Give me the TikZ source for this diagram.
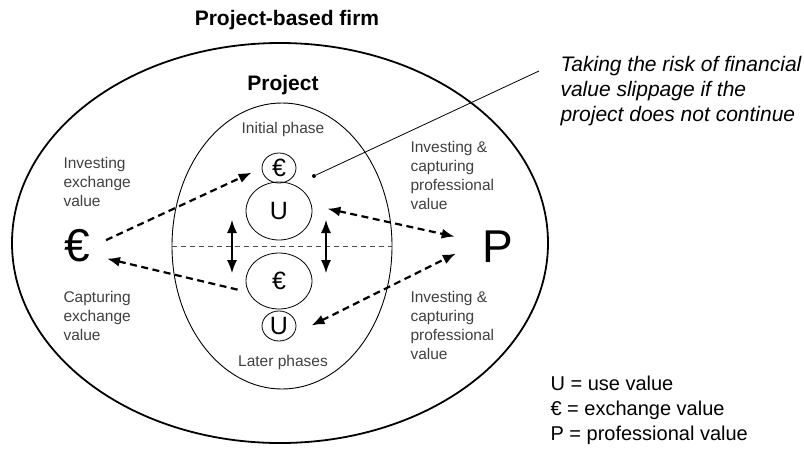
\documentclass[tikz,border=0pt]{standalone}
\usepackage{fontspec}
\setmainfont{Liberation Sans}
\usetikzlibrary{shapes.geometric,arrows.meta}

\tikzset{
	lbl/.style={align=left, text=black!75, font=\fontsize{15.5}{19}\selectfont},
	val/.style={draw, ellipse, inner sep=0pt, line width=0.8pt, font=\fontsize{25}{25}\selectfont},
	flow/.style={line width=2.2pt, dash pattern=on 7pt off 4.5pt},
	phasearrow/.style={<->, line width=1.2pt}
}

\begin{document}
\begin{tikzpicture}[x=1pt, y=-1pt, >={Latex[length=13pt,width=10pt]}]
	\useasboundingbox (0,0) rectangle (804,448);

	% Firm and project
	\node[draw, ellipse, line width=1.8pt, minimum width=536pt, minimum height=400pt] (firm) at (280,243) {};
	\node[draw, ellipse, line width=0.9pt, minimum width=220pt, minimum height=286pt] (proj) at (282,246) {};
	\draw[black!70, line width=0.7pt, dash pattern=on 5pt off 4pt] (proj.west) -- (proj.east);

	%Titles
	\node[font=\bfseries\fontsize{21}{25}\selectfont] (firmtitle) at (287,20) {Project-based firm};
	\node[font=\bfseries\fontsize{21}{25}\selectfont] (projtitle) at (283,85) {Project};
	\node[lbl] (initial) at (283,129) {Initial phase};
	\node[lbl] (later) at (283,362) {Later phases};

	% Values inside the project
	\node[val, minimum width=34pt, minimum height=30pt] (e1) at (279,168) {€};
	\node[val, minimum width=66pt, minimum height=58pt] (u1) at (279,211) {U};
	\node[val, minimum width=66pt, minimum height=56pt] (e2) at (279,281) {€};
	\node[val, minimum width=34pt, minimum height=30pt] (u2) at (279,326) {U};

	% Firm side
	\node[font=\fontsize{46}{46}\selectfont] (euro) at (77,246) {€};
	\node[font=\fontsize{46}{46}\selectfont] (prof) at (498,247) {P};

	\node[lbl, anchor=west] (invex) at (60,182) {Investing\\exchange\\value};
	\node[lbl, anchor=west] (capex) at (60,316) {Capturing\\exchange\\value};
	\node[lbl, anchor=west] (invpro) at (407,175) {Investing \&\\capturing\\professional\\value};
	\node[lbl, anchor=west] (cappro) at (407,325) {Investing \&\\capturing\\professional\\value};

	% Flows
	\draw[flow, ->, shorten <=14pt, shorten >=11pt] (euro.east) -- (e1.west);
	\draw[flow, ->, shorten <=11pt, shorten >=14pt] (e2.200) -- (euro.-30);
	\draw[flow, <->, shorten <=16pt, shorten >=25pt] (u1.10) -- (prof.165);
	\draw[flow, <->, shorten <=20pt, shorten >=26pt] (u2.-30) -- (prof.165);

	% Between phases
	\coordinate (la) at (232,220);
	\coordinate (lb) at (232,273);
	\coordinate (ra) at (326,220);
	\coordinate (rb) at (326,273);
	\draw[phasearrow] (la) -- (lb);
	\draw[phasearrow] (ra) -- (rb);

	% Risk note
	\node[circle, fill, inner sep=0pt, minimum size=4pt] (dot) at (314,176) {};
	\coordinate (riskend) at (539,71);
	\draw[line width=0.8pt] (dot) -- (riskend);
	\node[font=\itshape\fontsize{21}{25}\selectfont, align=left, anchor=west] (risk) at (557,91)
		{Taking the risk of financial\\value slippage if the\\project does not continue};

	% Legend
	\node[font=\fontsize{20}{25}\selectfont, align=left, anchor=west] (legend) at (547,410)
		{U = use value\\€ = exchange value\\P = professional value};
\end{tikzpicture}
\end{document}
